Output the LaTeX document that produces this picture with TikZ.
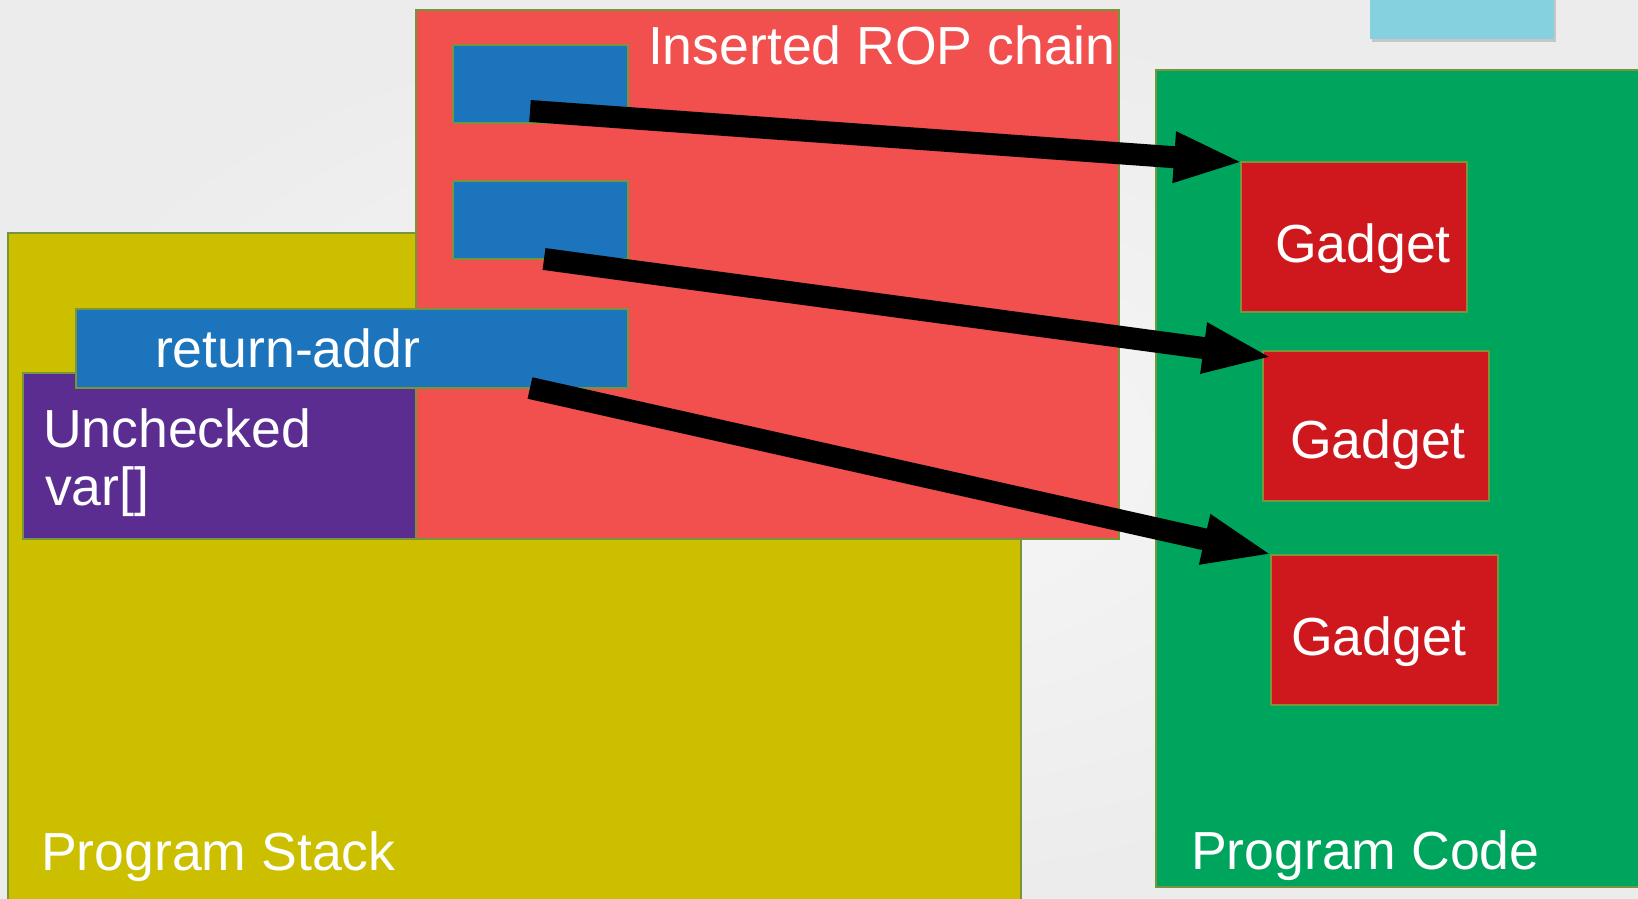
\documentclass[tikz,border=0pt]{standalone}
\usepackage{fontspec}
\setmainfont{Liberation Sans}
\usetikzlibrary{arrows.meta,fit,shadows}

\definecolor{bginner}{RGB}{247,247,247}
\definecolor{bgouter}{RGB}{236,236,236}
\definecolor{edgegreen}{RGB}{119,150,60}
\definecolor{stackyellow}{RGB}{204,191,0}
\definecolor{roppink}{RGB}{241,80,79}
\definecolor{addrblue}{RGB}{28,117,188}
\definecolor{varpurple}{RGB}{92,45,145}
\definecolor{codegreen}{RGB}{0,165,93}
\definecolor{gadgetred}{RGB}{206,24,30}
\definecolor{tabcyan}{RGB}{134,209,223}

\begin{document}
\begin{tikzpicture}[x=0.5pt,y=-0.5pt,
  box/.style={draw=edgegreen, line width=0.6pt, inner sep=0pt, outer sep=0pt},
  lbl/.style={text=white, font=\fontsize{26.8}{30}\selectfont, inner sep=0pt, outer sep=0pt, anchor=base west},
  bigarrow/.style={draw=black, line width=11pt, shorten >=-1.5pt, -{Triangle[length=35pt,width=23pt]}}]

  % canvas
  \useasboundingbox (0,0) rectangle (1638,899);
  \clip (0,0) rectangle (1638,899);
  \shade[inner color=bginner, outer color=bgouter] (0,0) rectangle (1638,899);

  % small tab at the top right
  \node[inner sep=0pt, outer sep=0pt, fill=tabcyan,
        drop shadow={shadow xshift=1pt, shadow yshift=-1.5pt, opacity=0.35},
        fit={(1370,-10) (1554,39)}] (tab) {};

  % stack memory
  \node[box, fill=stackyellow, fit={(8,233) (1021,930)}] (stack) {};
  \node[box, fill=roppink, fit={(416,10) (1119,539)}] (rop) {};
  \node[box, fill=varpurple, fit={(23,373) (416,539)}] (var) {};
  \node[box, fill=addrblue, fit={(453,45) (628,123)}] (blue1) {};
  \node[box, fill=addrblue, fit={(453,181) (628,259)}] (blue2) {};
  \node[box, fill=addrblue, fit={(76,309) (628,388)}] (retaddr) {};

  % code memory
  \node[box, fill=codegreen, fit={(1156,70) (1660,887)}] (code) {};
  \node[box, fill=gadgetred, fit={(1241,162) (1467,312)}] (g1) {};
  \node[box, fill=gadgetred, fit={(1263,351) (1489,501)}] (g2) {};
  \node[box, fill=gadgetred, fit={(1271,555) (1498,705)}] (g3) {};

  % labels
  \node[lbl] (roptext) at (648,65) {Inserted ROP chain};
  \node[lbl] (addrtext) at (155,367) {return-addr};
  \node[lbl] (vartext1) at (43,447) {Unchecked};
  \node[lbl] (vartext2) at (45,505) {var[]};
  \node[lbl] (stacktext) at (41,870) {Program Stack};
  \node[lbl] (codetext) at (1191,869) {Program Code};
  \node[lbl] (g1text) at (1275,262) {Gadget};
  \node[lbl] (g2text) at (1290,458) {Gadget};
  \node[lbl] (g3text) at (1291,655) {Gadget};

  % chain entries pointing at gadgets
  \draw[bigarrow] ([shift={(77,-12)}]blue1.south west) -- (g1.north west);
  \draw[bigarrow] ([shift={(91,0)}]blue2.south west) -- ([shift={(7,6)}]g2.north west);
  \draw[bigarrow] ([shift={(454,0)}]retaddr.south west) -- ([shift={(-1,-1)}]g3.north west);
\end{tikzpicture}
\end{document}
